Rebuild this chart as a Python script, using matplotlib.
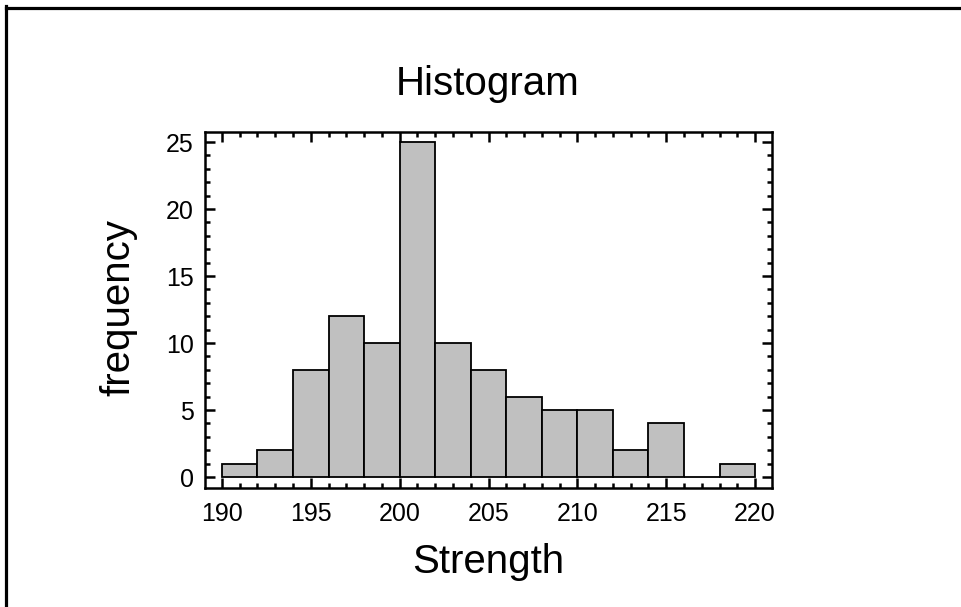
import numpy as np
import matplotlib
matplotlib.use('Agg')
import matplotlib.pyplot as plt
from matplotlib.ticker import MultipleLocator
from matplotlib.lines import Line2D

plt.rcParams['font.family'] = ['Liberation Sans', 'DejaVu Sans']

# histogram of Strength, bins of width 2
bin_edges = [190, 192, 194, 196, 198, 200, 202, 204, 206, 208, 210, 212, 214, 216, 218, 220]
counts = [1, 2, 8, 12, 10, 25, 10, 8, 6, 5, 5, 2, 4, 0, 1]
xticks = [190, 195, 200, 205, 210, 215, 220]
yticks = [0, 5, 10, 15, 20, 25]

W, H = 961, 607
fig = plt.figure(figsize=(W/100, H/100), dpi=100)
ax = fig.add_axes([205/W, 1 - 488/H, (772-205)/W, (488-132)/H])

widths = np.diff(bin_edges)
ax.bar(bin_edges[:-1], counts, width=widths, align='edge',
       color='#c0c0c0', edgecolor='black', linewidth=1.3)

ax.set_xlim(189.05, 220.95)
ax.set_ylim(-0.82, 25.75)
ax.set_xticks(xticks)
ax.set_yticks(yticks)
ax.xaxis.set_minor_locator(MultipleLocator(1))
ax.yaxis.set_minor_locator(MultipleLocator(1))
ax.tick_params(which='both', direction='in', top=True, right=True, width=1.8)
ax.tick_params(which='major', length=7, labelsize=18)
ax.tick_params(which='minor', length=3.5)
ax.tick_params(axis='y', which='major', pad=8)
ax.tick_params(axis='x', which='major', pad=10)
for s in ax.spines.values():
    s.set_linewidth(1.8)

# title and axis labels placed in figure pixels
fig.text(488/W, 1 - 84/H, 'Histogram', fontsize=29, ha='center', va='center')
fig.text(488/W, 1 - 562/H, 'Strength', fontsize=29, ha='center', va='center')
fig.text(118/W, 1 - 308/H, 'frequency', fontsize=29, ha='center', va='center',
         rotation=90)

# outer frame: top and left only
fig.add_artist(Line2D([6/W, 6/W], [0, 1 - 6/H], color='black', linewidth=2.3,
                      transform=fig.transFigure, solid_capstyle='projecting'))
fig.add_artist(Line2D([6/W, 1], [1 - 8.3/H, 1 - 8.3/H], color='black', linewidth=2.3,
                      transform=fig.transFigure))

fig.savefig('out.png', dpi=100)
